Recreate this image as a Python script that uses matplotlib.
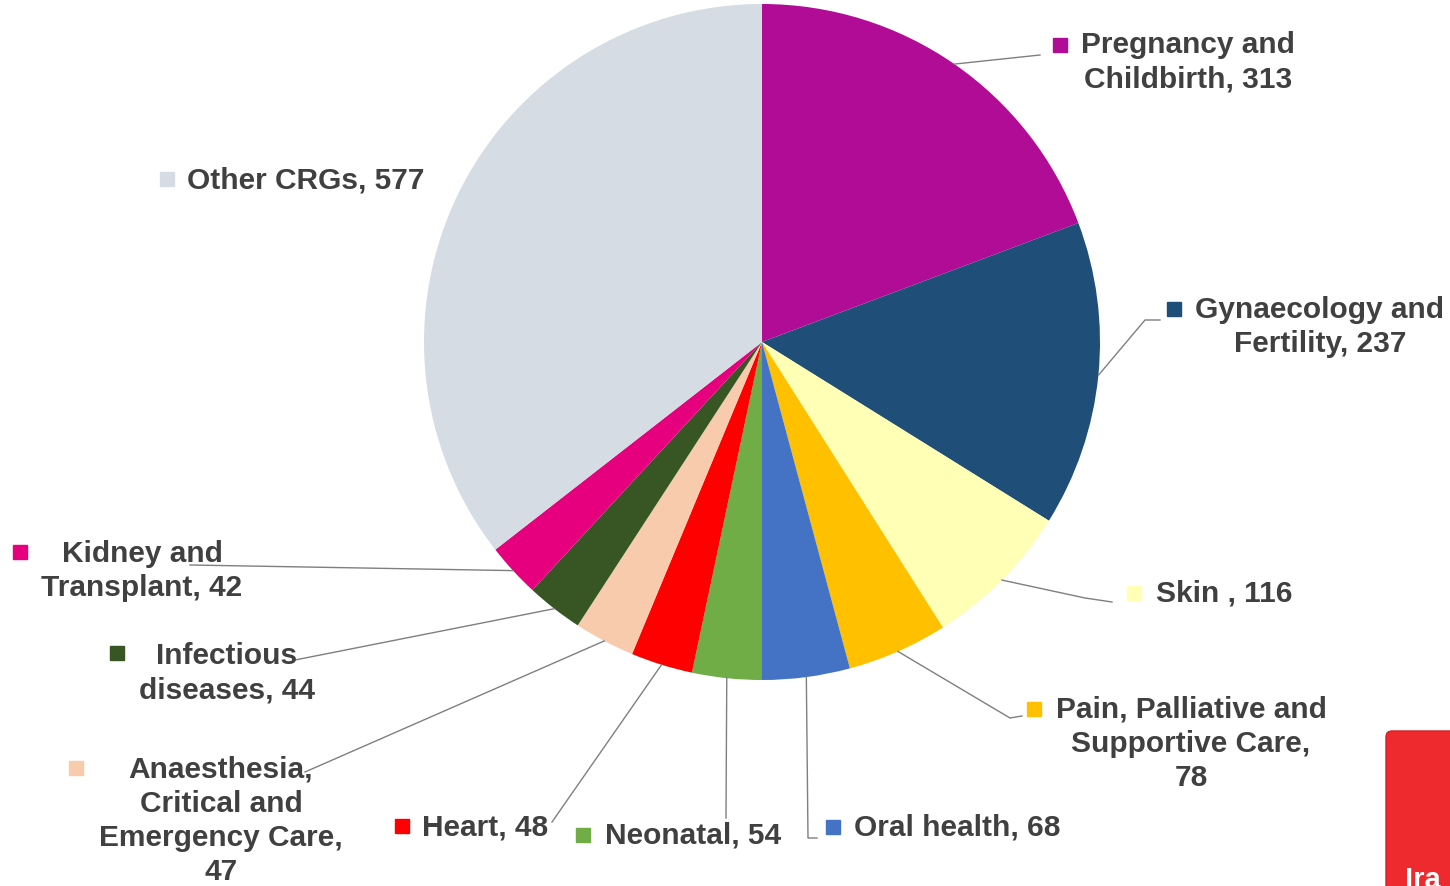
import numpy as np
import matplotlib.pyplot as plt
from matplotlib.patches import FancyBboxPatch

# ── Data ─────────────────────────────
categories = ['Pregnancy and\nChildbirth, 313', 'Gynaecology and\nFertility, 237', 'Skin , 116',
              'Pain, Palliative and\nSupportive Care,\n78', 'Oral health, 68', 'Neonatal, 54',
              'Heart, 48', 'Anaesthesia,\nCritical and\nEmergency Care,\n47',
              'Infectious\ndiseases, 44', 'Kidney and\nTransplant, 42', 'Other CRGs, 577']
values = [313, 237, 116, 78, 68, 54, 48, 47, 44, 42, 577]
colors = ['#B10C96', '#1F4E79', '#FFFFB5', '#FFC000', '#4472C4', '#70AD47',
          '#FF0000', '#F8CBAD', '#375623', '#E6007E', '#D6DCE4']

# ── Layout (pixel coords, y from top) ─────────────────────────────
W, H = 1450, 886
cx, cy, R = 762, 342, 338
text_pos = [(1188, 45), (1320, 310), (1224, 594), (1191, 710), (957, 828), (693, 836),
            (485, 827), (221, 770), (227, 656), (142, 554), (187, 180)]
marker_pos = [(1060, 45), (1174, 309), (1134, 593), (1034, 709), (833, 827), (583, 835),
              (402, 826), (76, 768), (117, 653), (20, 552), (167, 179)]
leaders = [[(1040, 55)], [(1145, 320), (1160, 320)], [(1085, 598), (1112, 602)],
           [(1010, 718), (1022, 716)], [(808, 838), (817, 838)], [(726, 818)],
           [(552, 822)], [(305, 772)], [(295, 660)], [(190, 565)], []]

plt.rcParams['font.family'] = ['Liberation Sans', 'DejaVu Sans']

fig = plt.figure(figsize=(W / 100, H / 100), dpi=100)
ax = fig.add_axes([0, 0, 1, 1])

wedges, _ = ax.pie(values, colors=colors, startangle=90, counterclock=False,
                   center=(cx, H - cy), radius=R, frame=True,
                   wedgeprops=dict(linewidth=0))
ax.set_xlim(0, W)
ax.set_ylim(0, H)
ax.axis('off')

for i, w in enumerate(wedges):
    # leader line from the wedge edge at its mid angle
    if leaders[i]:
        mid = np.deg2rad((w.theta1 + w.theta2) / 2)
        xs = [cx + R * np.cos(mid)] + [p[0] for p in leaders[i]]
        ys = [H - cy + R * np.sin(mid)] + [H - p[1] for p in leaders[i]]
        ax.plot(xs, ys, color='#7F7F7F', lw=1, zorder=3)
    tx, ty = text_pos[i]
    ha = 'left' if i == 10 else 'center'
    ax.text(tx, H - ty + 14, categories[i], ha=ha, va='top', fontsize=21.5,
            fontweight='bold', color='#404040', linespacing=1.28, zorder=4)
    mx, my = marker_pos[i]
    ax.plot(mx, H - my, marker='s', markersize=10, color=colors[i], zorder=4)

# cut-off red box at bottom right
box = FancyBboxPatch((1386, -20), 100, H - 731 + 20, boxstyle='round,pad=0,rounding_size=6',
                     fc='#EE2A2F', ec='#D81E24', lw=1, zorder=2)
ax.add_patch(box)
ax.text(1405, H - 866, 'Ira', ha='left', va='top', fontsize=21, fontweight='bold',
        color='white', zorder=3)

fig.savefig('out.png', dpi=100)
